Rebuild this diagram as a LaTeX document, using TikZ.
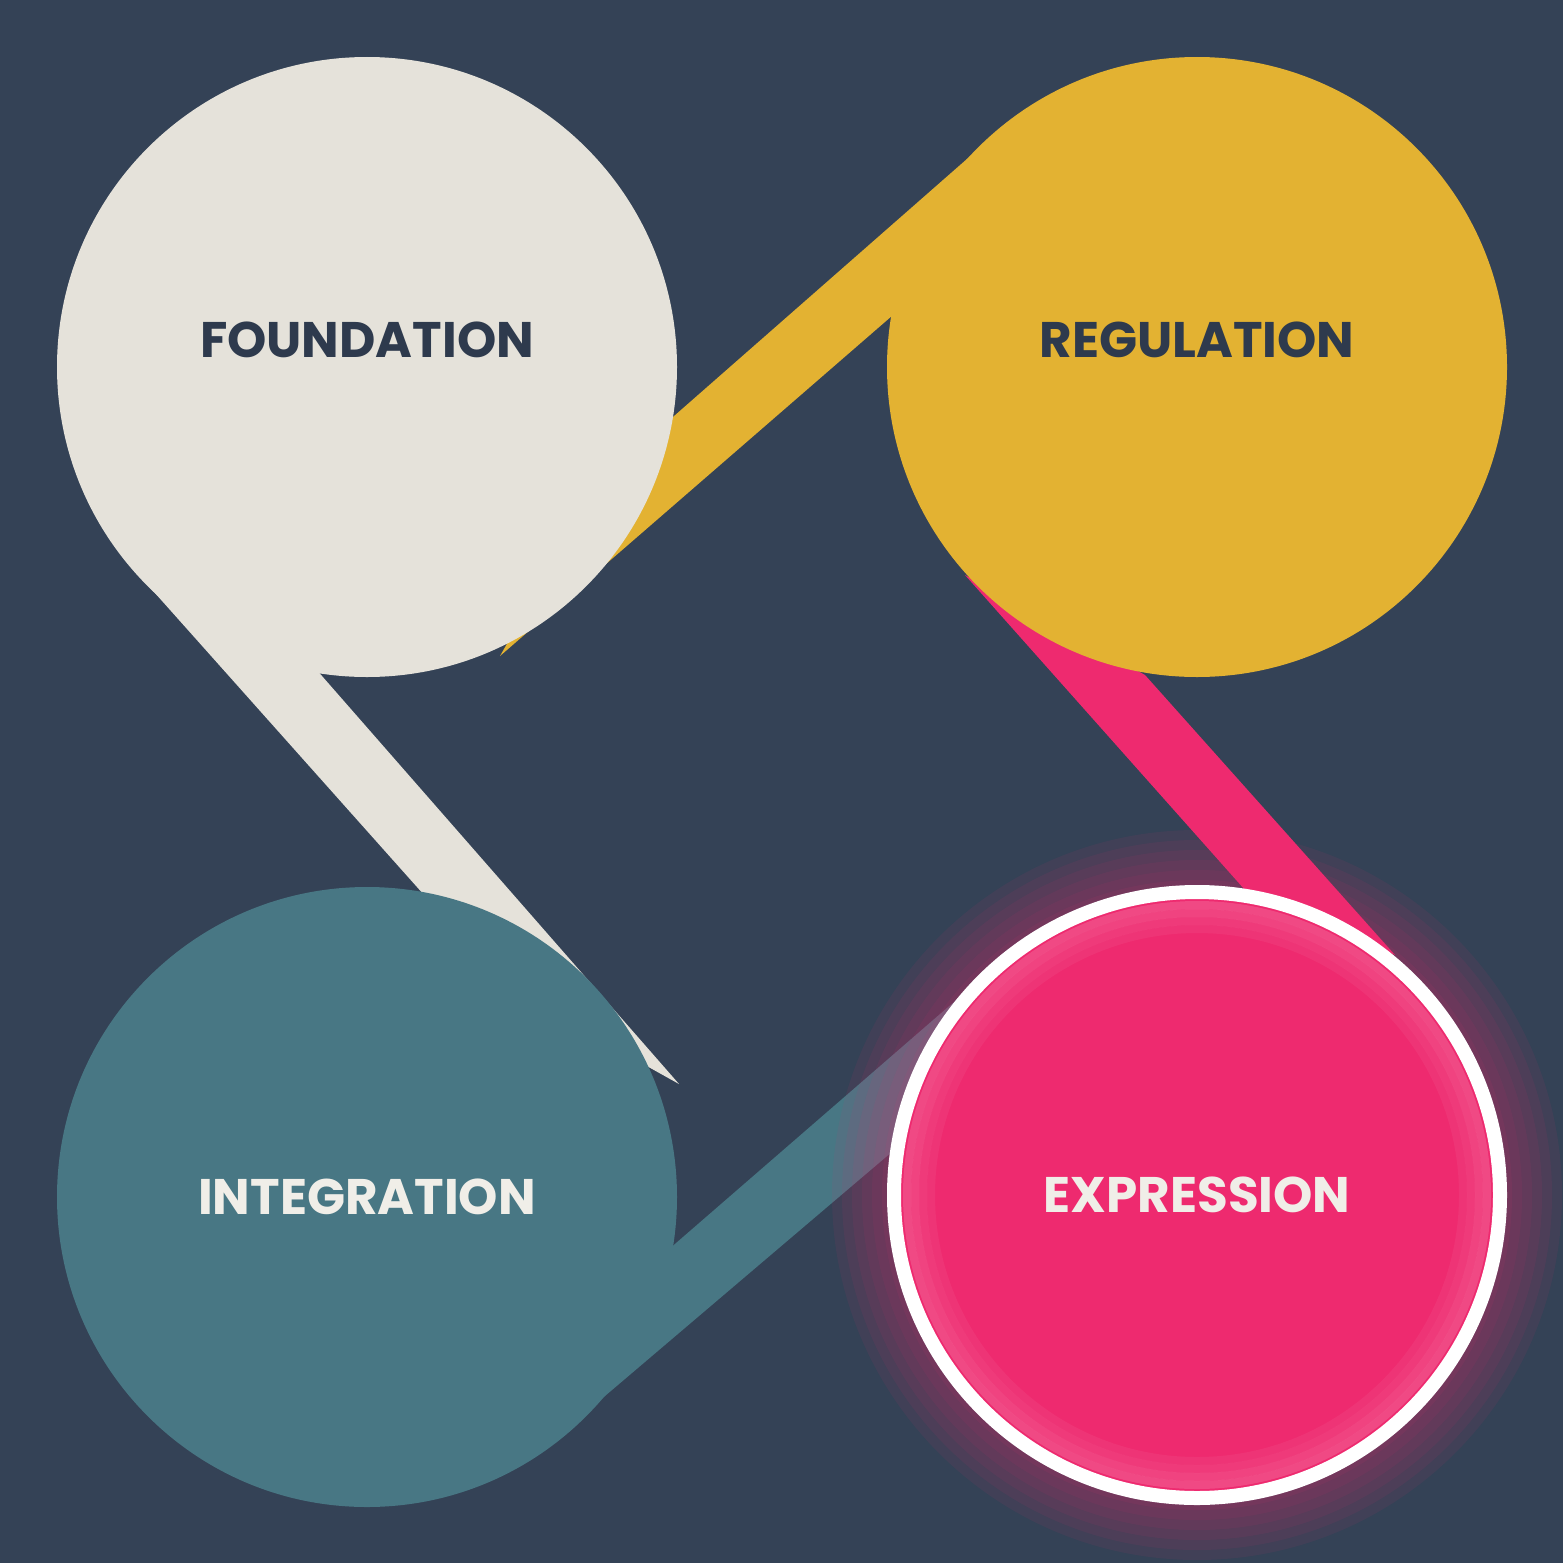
\documentclass[tikz,border=0pt]{standalone}
\usepackage{fontspec}
\setmainfont{Poppins}
\definecolor{bg}{HTML}{344256}
\definecolor{fnd}{HTML}{E5E2DA}
\definecolor{reg}{HTML}{E3B232}
\definecolor{intg}{HTML}{487784}
\definecolor{expr}{HTML}{EE2A6F}
\definecolor{dk}{HTML}{2E3A4D}
\definecolor{lt}{HTML}{F0EEE8}
\begin{document}
\begin{tikzpicture}[x=1pt,y=-1pt,
  lbl/.style={font=\fontsize{50}{50}\selectfont\bfseries},
  blob/.style={circle,minimum size=620pt,inner sep=0pt}]
\fill[bg] (0,0) rectangle (1563,1563);
\useasboundingbox (0,0) rectangle (1563,1563);
% bands
\fill[fnd] (130,565) -- (507,988) -- (679,1084) -- (315,668) -- cycle;
\fill[reg] (1000,130) -- (893,315) -- (500,656) -- (600,481) -- cycle;
\fill[expr] (965,575) -- (1145,675) -- (1395,955) -- (1245,890) -- cycle;
\fill[intg] (668,1250) -- (1000,962) -- (1000,1060) -- (565,1430) -- cycle;
% glow
\foreach \r in {365,355,...,305}{\fill[expr,opacity=0.07] (1197,1195) circle (\r);}
% circles
\node[blob,fill=fnd] (f) at (367,367) {};
\node[blob,fill=reg] (r) at (1197,367) {};
\node[blob,fill=intg] (i) at (367,1197) {};
\node[blob,fill=expr,draw=white,line width=14pt,minimum size=606pt] (e) at (1197,1195) {};
\foreach \r/\o in {290/0.15,282/0.12,274/0.08,266/0.05}{\draw[white,opacity=\o,line width=8pt] (e.center) circle (\r);}
\node[lbl,text=dk] at (f.center) [yshift=27pt] {FOUNDATION};
\node[lbl,text=dk] at (r.center) [yshift=27pt] {REGULATION};
\node[lbl,text=lt] at (i.center) [yshift=0pt] {INTEGRATION};
\node[lbl,text=lt] at (e.center) [yshift=0pt] {EXPRESSION};
\end{tikzpicture}
\end{document}
